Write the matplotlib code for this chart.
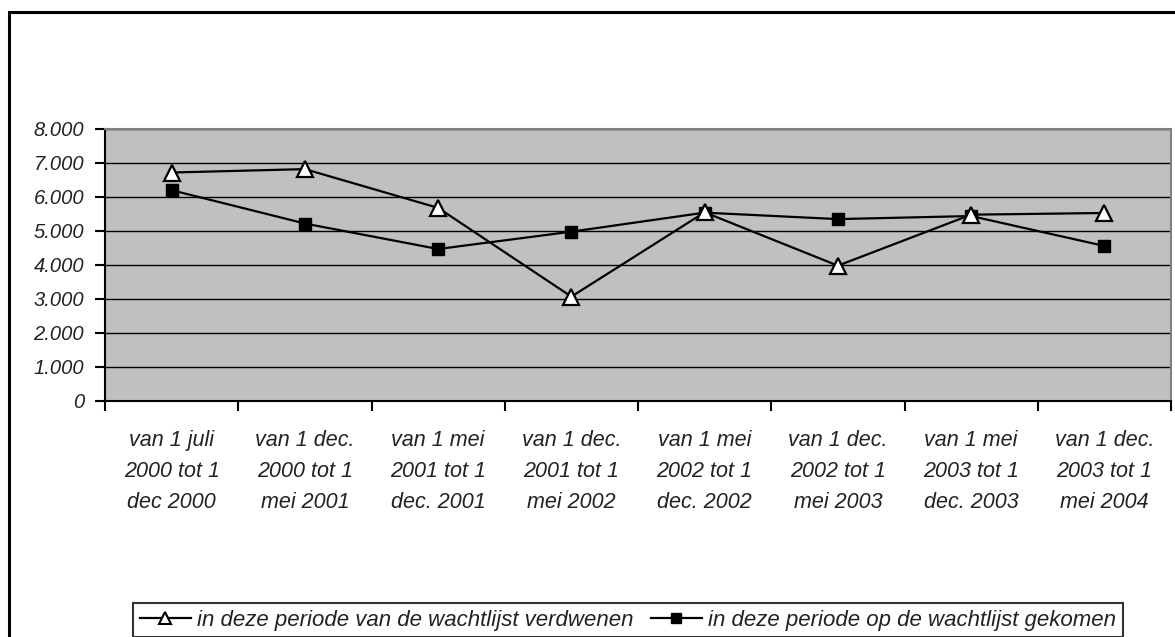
import matplotlib
matplotlib.use("Agg")
import matplotlib.pyplot as plt
from matplotlib.lines import Line2D
from matplotlib.patches import Rectangle
from matplotlib.ticker import FixedLocator, FuncFormatter

categories = [
    "van 1 juli\n2000 tot 1\ndec 2000",
    "van 1 dec.\n2000 tot 1\nmei 2001",
    "van 1 mei\n2001 tot 1\ndec. 2001",
    "van 1 dec.\n2001 tot 1\nmei 2002",
    "van 1 mei\n2002 tot 1\ndec. 2002",
    "van 1 dec.\n2002 tot 1\nmei 2003",
    "van 1 mei\n2003 tot 1\ndec. 2003",
    "van 1 dec.\n2003 tot 1\nmei 2004",
]
verdwenen = [6720, 6820, 5680, 3070, 5550, 3980, 5480, 5530]
gekomen = [6200, 5220, 4470, 4980, 5540, 5350, 5440, 4560]
series_labels = ["in deze periode van de wachtlijst verdwenen",
                 "in deze periode op de wachtlijst gekomen"]
y_ticks = [0, 1000, 2000, 3000, 4000, 5000, 6000, 7000, 8000]

FONT = ["Liberation Sans", "DejaVu Sans"]
plt.rcParams["font.family"] = FONT

W, H = 1175, 637
fig = plt.figure(figsize=(W / 100, H / 100), dpi=100)
fig.patch.set_facecolor("white")

# outer chart frame (only left and top edges visible in reference)
fig.add_artist(Rectangle((9 / W, -0.2), 1.2, 1 - 12 / H + 0.2, transform=fig.transFigure,
                         fill=False, edgecolor="black", linewidth=2.2))

ax = fig.add_axes([105 / W, 1 - 401 / H, (1171 - 105) / W, (401 - 129) / H])
ax.set_facecolor("#C0C0C0")

x = list(range(len(categories)))
ax.plot(x, verdwenen, color="black", lw=1.6, marker="^", markersize=11,
        markerfacecolor="white", markeredgecolor="black", markeredgewidth=1.6, zorder=4)
ax.plot(x, gekomen, color="black", lw=1.6, marker="s", markersize=8.5,
        markerfacecolor="black", markeredgecolor="black", zorder=3)

ax.set_xlim(-0.5, len(categories) - 0.5)
ax.set_ylim(0, 8000)

ax.set_yticks(y_ticks)
ax.yaxis.set_major_formatter(FuncFormatter(lambda v, p: f"{int(v):,}".replace(",", ".")))
ax.yaxis.grid(True, color="black", lw=1)
ax.set_axisbelow(True)

ax.xaxis.set_major_locator(FixedLocator([i - 0.5 for i in range(len(categories) + 1)]))
ax.xaxis.set_major_formatter(FuncFormatter(lambda v, p: ""))
ax.xaxis.set_minor_locator(FixedLocator(x))
ax.set_xticklabels(categories, minor=True)

ax.tick_params(axis="x", which="major", length=7, width=1.5, direction="out", color="black")
ax.tick_params(axis="x", which="minor", length=0, pad=21)
ax.tick_params(axis="y", which="major", length=7, width=1.5, direction="out", pad=8)

for lab in ax.get_xticklabels(minor=True):
    lab.set_fontstyle("italic")
    lab.set_fontsize(15.5)
    lab.set_linespacing(1.62)
    lab.set_color("#222222")
for lab in ax.get_yticklabels():
    lab.set_fontstyle("italic")
    lab.set_fontsize(14.5)
    lab.set_color("#222222")

for s in ["top", "right"]:
    ax.spines[s].set_color("#808080")
    ax.spines[s].set_linewidth(1.5)
for s in ["left", "bottom"]:
    ax.spines[s].set_color("black")
    ax.spines[s].set_linewidth(1.5)

handles = [
    Line2D([], [], color="black", lw=1.6, marker="^", markersize=8.5,
           markerfacecolor="white", markeredgecolor="black", markeredgewidth=1.5),
    Line2D([], [], color="black", lw=1.6, marker="s", markersize=7,
           markerfacecolor="black", markeredgecolor="black"),
]
leg = fig.legend(handles, series_labels, loc="upper left",
                 bbox_to_anchor=(133 / W, 1 - 603 / H), ncol=2, frameon=True,
                 fancybox=False, edgecolor="black", borderpad=0.3, borderaxespad=0,
                 handlelength=2.3, handletextpad=0.3, columnspacing=0.75,
                 prop={"family": FONT, "style": "italic", "size": 16})
leg.get_frame().set_linewidth(1.5)
for t in leg.get_texts():
    t.set_color("#222222")

fig.savefig("out.png", dpi=100)
